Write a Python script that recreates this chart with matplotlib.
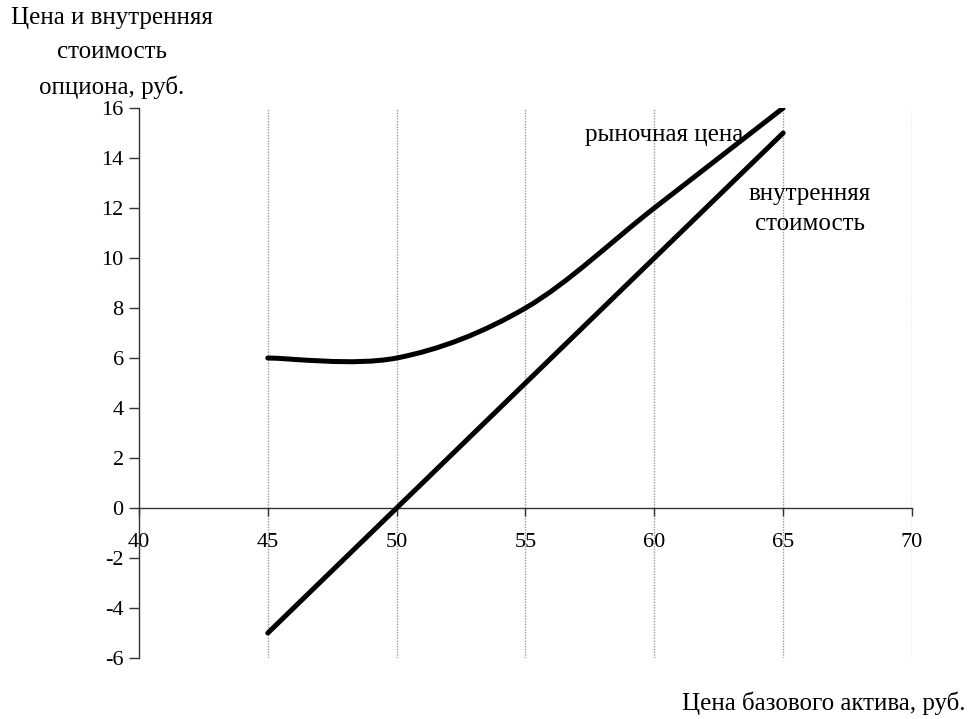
import matplotlib
matplotlib.use("Agg")
import matplotlib.pyplot as plt
from matplotlib.path import Path
from matplotlib.patches import PathPatch
import numpy as np

plt.rcParams['font.family'] = ['Liberation Serif', 'DejaVu Serif']
plt.rcParams['axes.unicode_minus'] = False

# Data
asset_price = [45, 50, 55, 60, 65]
market_price = [6, 6, 8, 12, 16]
intrinsic_value = [-5, 0, 5, 10, 15]
x_ticks = [40, 45, 50, 55, 60, 65, 70]
y_ticks = [-6, -4, -2, 0, 2, 4, 6, 8, 10, 12, 14, 16]

fig = plt.figure(figsize=(9.69, 7.19), dpi=100)
ax = fig.add_axes([0.1434, 0.0848, 0.7978, 0.765])
ax.set_xlim(40, 70)
ax.set_ylim(-6, 16)

# vertical dotted gridlines
for xv in x_ticks[1:]:
    ax.axvline(xv, color='#9a9a9a', lw=1.0, ls=(0, (1, 1)), zorder=1)


def smooth_path(xs, ys):
    """Excel-style smoothed line (Catmull-Rom -> cubic Bezier)."""
    pts = np.column_stack([xs, ys]).astype(float)
    n = len(pts)
    verts = [pts[0]]
    codes = [Path.MOVETO]
    for i in range(n - 1):
        p0 = pts[i - 1] if i > 0 else pts[i]
        p1 = pts[i]
        p2 = pts[i + 1]
        p3 = pts[i + 2] if i + 2 < n else pts[i + 1]
        c1 = p1 + (p2 - p0) / 6.0
        c2 = p2 - (p3 - p1) / 6.0
        verts += [c1, c2, p2]
        codes += [Path.CURVE4] * 3
    return Path(verts, codes)


ax.add_patch(PathPatch(smooth_path(asset_price, market_price), fill=False,
                       lw=3.6, edgecolor='black', capstyle='round', zorder=3))
ax.plot(asset_price, intrinsic_value, color='black', lw=3.6,
        solid_capstyle='round', zorder=3)

# spines
for s in ['top', 'right']:
    ax.spines[s].set_visible(False)
ax.spines['bottom'].set_position(('data', 0))
ax.spines['left'].set_position(('data', 40))
for s in ['bottom', 'left']:
    ax.spines[s].set_color('#333333')
    ax.spines[s].set_linewidth(1.0)

ax.set_xticks(x_ticks)
ax.set_yticks(y_ticks)
ax.set_xticklabels([str(v) for v in x_ticks])
ax.set_yticklabels([str(v) for v in y_ticks])
ax.tick_params(axis='x', direction='out', length=6, width=1, color='#333333',
               labelsize=16, pad=12)
ax.tick_params(axis='y', direction='out', length=7, width=1, color='#333333',
               labelsize=16, pad=4)

# annotations
ax.text(57.3, 14.9, 'рыночная цена', fontsize=18, ha='left', va='center', zorder=2)
ax.text(66.04, 11.96, 'внутренняя\nстоимость', fontsize=18, ha='center',
        va='center', linespacing=1.44, zorder=2)

fig.text(112 / 969, 1 - 53 / 719, 'Цена и внутренняя\nстоимость\nопциона, руб.',
         fontsize=18, ha='center', va='center', linespacing=1.7)
fig.text(965 / 969, 1 - 703 / 719, 'Цена базового актива, руб.',
         fontsize=18, ha='right', va='center')

fig.savefig('out.png', dpi=100)
